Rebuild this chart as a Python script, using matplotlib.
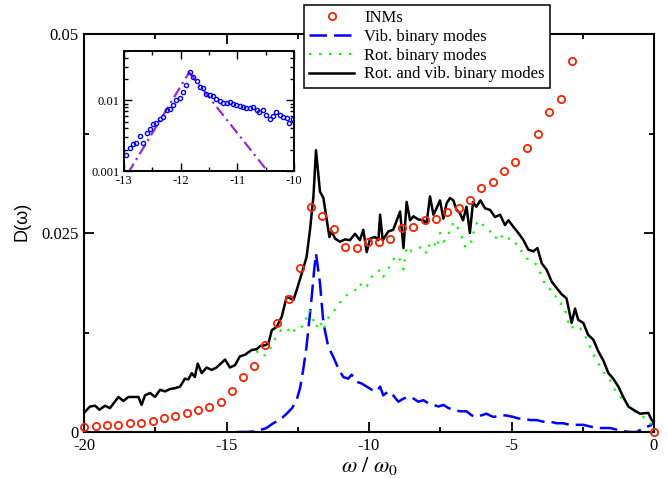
import matplotlib
matplotlib.use("Agg")
import matplotlib.pyplot as plt
from matplotlib.ticker import FixedLocator, NullFormatter, LogLocator

plt.rcParams['axes.unicode_minus'] = False
plt.rcParams['mathtext.fontset'] = 'stix'
SERIF = ['Liberation Serif', 'DejaVu Serif']

# ---------------- data ----------------
# INMs (red open circles)
inm_x = [-20.0, -19.58, -19.18, -18.8, -18.39, -18.0, -17.59, -17.19, -16.8, -16.4,
         -16.01, -15.61, -15.21, -14.82, -14.43, -14.04, -13.64, -13.23, -12.82, -12.42,
         -12.02, -11.65, -11.24, -10.83, -10.43, -10.04, -9.65, -9.26, -8.85, -8.44,
         -8.05, -7.66, -7.26, -6.85, -6.46, -6.06, -5.66, -5.26, -4.87, -4.47,
         -4.07, -3.67, -3.28, -2.89, 0.0]
inm_y = [0.00067, 0.00075, 0.00084, 0.00092, 0.0011, 0.00117, 0.00134, 0.0017, 0.002, 0.0024,
         0.0028, 0.0032, 0.0038, 0.0051, 0.0069, 0.0083, 0.0109, 0.0137, 0.0167, 0.0206,
         0.0283, 0.0271, 0.0255, 0.0232, 0.0231, 0.0239, 0.0239, 0.0242, 0.0256, 0.0257,
         0.0266, 0.0267, 0.0277, 0.0281, 0.0292, 0.0307, 0.0314, 0.0328, 0.0339, 0.0357,
         0.0375, 0.0402, 0.0418, 0.0466, 0.0]

# Vib. binary modes (blue dashed)
vib_x = [-14.64, -14.3, -13.94, -13.6, -13.36, -13.1, -12.89, -12.7, -12.54, -12.42,
         -12.31, -12.2, -12.13, -12.01, -11.92, -11.86, -11.72, -11.6, -11.43, -11.26,
         -11.08, -10.9, -10.73, -10.61, -10.43, -10.26, -10.08, -9.9, -9.73, -9.61,
         -9.5, -9.32, -9.15, -8.97, -8.79, -8.62, -8.44, -8.27, -8.09, -7.92,
         -7.74, -7.56, -7.39, -7.21, -7.04, -6.81, -6.58, -6.4, -6.23, -6.05,
         -5.88, -5.65, -5.4, -5.23, -4.94, -4.76, -4.58, -4.35, -4.12, -3.89,
         -3.65, -3.42, -3.19, -2.95, -2.71, -2.48, -2.25, -2.01, -1.78, -1.54,
         -1.31, -1.08, -0.84, -0.61, -0.37, -0.14, 0.0]
vib_y = [0.0, 0.0, 0.0001, 0.0005, 0.0011, 0.0016, 0.0023, 0.003, 0.004, 0.0055,
         0.0078, 0.0105, 0.0128, 0.017, 0.0205, 0.0224, 0.0187, 0.0137, 0.0107, 0.0095,
         0.008, 0.0069, 0.0067, 0.0072, 0.0063, 0.0061, 0.0057, 0.0053, 0.0051, 0.0057,
         0.0046, 0.0051, 0.0046, 0.0038, 0.0042, 0.0044, 0.0042, 0.0038, 0.004, 0.0036,
         0.0034, 0.0032, 0.0034, 0.003, 0.0028, 0.0026, 0.0026, 0.0021, 0.0019, 0.0021,
         0.0023, 0.0019, 0.002, 0.0021, 0.0019, 0.0017, 0.0017, 0.0015, 0.0015, 0.0013,
         0.0013, 0.0011, 0.0011, 0.0009, 0.0009, 0.0009, 0.0007, 0.0005, 0.0005, 0.0005,
         0.0003, 0.0001, 0.0, 0.0, 0.0005, 0.0008, 0.0012]

# Rot. binary modes (green dotted)
rot_x = [-13.94, -13.82, -13.59, -13.44, -13.22, -13.09, -12.89, -12.74, -12.6, -12.42,
         -12.25, -12.13, -12.03, -11.95, -11.86, -11.72, -11.6, -11.48, -11.31, -11.07,
         -10.9, -10.78, -10.6, -10.49, -10.32, -10.2, -10.08, -9.85, -9.73, -9.61,
         -9.5, -9.32, -9.2, -9.03, -8.91, -8.79, -8.68, -8.5, -8.27, -8.1,
         -7.98, -7.86, -7.74, -7.63, -7.51, -7.39, -7.21, -7.16, -6.98, -6.86,
         -6.75, -6.63, -6.51, -6.4, -6.28, -6.11, -5.93, -5.75, -5.58, -5.4,
         -5.29, -5.11, -4.87, -4.82, -4.64, -4.47, -4.3, -4.12, -3.89, -3.77,
         -3.54, -3.36, -3.19, -3.07, -2.95, -2.71, -2.48, -2.25, -2.07, -1.89,
         -1.72, -1.54, -1.37, -1.13, -0.96, -0.78, -0.6, -0.37, -0.14, -0.02]
rot_y = [0.0102, 0.0095, 0.0097, 0.0108, 0.0122, 0.0128, 0.0125, 0.0133, 0.0126, 0.0131,
         0.0135, 0.0153, 0.0150, 0.0140, 0.0131, 0.0140, 0.0128, 0.0142, 0.0147, 0.0162,
         0.0165, 0.0172, 0.0175, 0.0178, 0.0187, 0.0180, 0.0183, 0.0199, 0.0200, 0.0204,
         0.0195, 0.0205, 0.0214, 0.0222, 0.0216, 0.0204, 0.0233, 0.0227, 0.0231, 0.0233,
         0.0224, 0.0237, 0.0240, 0.0231, 0.0250, 0.0239, 0.0247, 0.0258, 0.0264, 0.0254,
         0.0245, 0.0233, 0.0241, 0.0239, 0.0260, 0.0266, 0.0256, 0.0252, 0.0243, 0.0250,
         0.0241, 0.0243, 0.0241, 0.0231, 0.0227, 0.0218, 0.0216, 0.0210, 0.0191, 0.0181,
         0.0178, 0.0162, 0.0160, 0.0147, 0.0130, 0.0134, 0.0126, 0.0107, 0.0093, 0.0082,
         0.0072, 0.0065, 0.0053, 0.0042, 0.0036, 0.0030, 0.0023, 0.0019, 0.0011, 0.0008]

# Rot. and vib. binary modes (black solid)
tot_x = [-19.96, -19.79, -19.61, -19.46, -19.26, -19.09, -18.79, -18.62, -18.44, -18.09,
         -17.98, -17.86, -17.68, -17.51, -17.33, -17.16, -16.98, -16.81, -16.63, -16.46,
         -16.34, -16.22, -16.11, -16.01, -15.87, -15.7, -15.52, -15.35, -15.05, -14.88,
         -14.7, -14.53, -14.35, -14.12, -13.94, -13.82, -13.65, -13.53, -13.41, -13.24,
         -13.06, -12.89, -12.65, -12.54, -12.36, -12.19, -12.07, -11.95, -11.86,
         -11.72, -11.6, -11.48, -11.39, -11.31, -11.19, -11.02, -10.84, -10.67, -10.49,
         -10.32, -10.2, -10.08, -9.96, -9.79, -9.67, -9.61, -9.52, -9.32, -9.15,
         -8.91, -8.79, -8.68, -8.56, -8.44, -8.27, -8.09, -7.98, -7.86, -7.74,
         -7.63, -7.51, -7.39, -7.28, -7.16, -7.04, -6.93, -6.81, -6.7, -6.58,
         -6.46, -6.35, -6.23, -6.09, -5.93, -5.75, -5.58, -5.4, -5.23, -5.11,
         -4.94, -4.76, -4.58, -4.41, -4.23, -4.09, -3.94, -3.77, -3.59, -3.42,
         -3.24, -3.07, -2.89, -2.77, -2.66, -2.48, -2.31, -2.13, -1.95, -1.78,
         -1.6, -1.43, -1.25, -1.08, -0.9, -0.73, -0.49, -0.2, -0.08, -0.01]
tot_y = [0.00255, 0.0032, 0.0033, 0.0028, 0.0033, 0.003, 0.0044, 0.0039, 0.0044, 0.0044,
         0.0034, 0.0046, 0.0049, 0.0044, 0.0053, 0.0051, 0.0054, 0.0055, 0.0057, 0.0067,
         0.0066, 0.0074, 0.0069, 0.0086, 0.0074, 0.0081, 0.0078, 0.0081, 0.0091, 0.0081,
         0.0084, 0.0095, 0.0097, 0.0103, 0.0104, 0.0108, 0.0109, 0.0111, 0.0128, 0.0132,
         0.0145, 0.017, 0.0166, 0.0178, 0.0199, 0.022, 0.0254, 0.0296, 0.0354,
         0.0302, 0.0294, 0.0266, 0.0245, 0.0252, 0.0243, 0.0239, 0.0242, 0.0241, 0.0249,
         0.0241, 0.0254, 0.0226, 0.0243, 0.0245, 0.0241, 0.0273, 0.0241, 0.0252, 0.0254,
         0.0277, 0.0231, 0.0289, 0.0266, 0.0271, 0.0267, 0.0266, 0.0262, 0.0296, 0.0273,
         0.0281, 0.0291, 0.0268, 0.0287, 0.0294, 0.0291, 0.0279, 0.0275, 0.0266, 0.0283,
         0.025, 0.0289, 0.0283, 0.0291, 0.0281, 0.0279, 0.027, 0.0273, 0.026, 0.0266,
         0.0258, 0.025, 0.0241, 0.0229, 0.0227, 0.0231, 0.0212, 0.0204, 0.0189, 0.0181,
         0.0173, 0.0168, 0.0137, 0.0155, 0.0141, 0.0137, 0.0122, 0.0116, 0.0101, 0.009,
         0.0074, 0.0067, 0.0057, 0.0044, 0.0032, 0.0028, 0.0023, 0.0024, 0.0015, 0.0013]

# Inset: vib. binary modes on log scale + exponential guides
ins_x = [-12.96, -12.9, -12.84, -12.78, -12.72, -12.66, -12.6, -12.55, -12.49, -12.43,
         -12.37, -12.31, -12.25, -12.19, -12.14, -12.08, -12.02, -11.96, -11.9, -11.84,
         -11.78, -11.72, -11.66, -11.6, -11.55, -11.49, -11.43, -11.37, -11.31, -11.25,
         -11.19, -11.13, -11.08, -11.02, -10.96, -10.9, -10.84, -10.78, -10.72, -10.66,
         -10.61, -10.55, -10.49, -10.43, -10.37, -10.31, -10.25, -10.19, -10.13, -10.08,
         -10.02]
ins_y = [0.00166, 0.00215, 0.0024, 0.00249, 0.0031, 0.0025, 0.0035, 0.0039, 0.0046, 0.0048,
         0.0055, 0.0058, 0.0073, 0.0076, 0.0085, 0.01, 0.0109, 0.0131, 0.0165, 0.0249,
         0.0211, 0.0185, 0.0155, 0.0148, 0.0122, 0.0118, 0.0115, 0.0103, 0.0098, 0.0093,
         0.0091, 0.0096, 0.009, 0.0085, 0.0083, 0.0081, 0.0077, 0.0079, 0.008, 0.0074,
         0.0068, 0.0072, 0.0063, 0.0055, 0.006, 0.0068, 0.0063, 0.0058, 0.0057, 0.0048,
         0.0055]
fit_left_x = [-12.93, -11.85]
fit_left_y = [0.00093, 0.025]
fit_right_x = [-11.85, -10.47]
fit_right_y = [0.025, 0.001]

main_xticks = [-20, -15, -10, -5, 0]
main_xlabels = ['-20', '-15', '-10', '-5', '0']
main_yticks = [0, 0.025, 0.05]
main_ylabels = ['0', '0.025', '0.05']
ins_xticks = [-13, -12, -11, -10]
ins_xlabels = ['-13', '-12', '-11', '-10']
ins_yticks = [0.001, 0.01]
ins_ylabels = ['0.001', '0.01']

labels = ['INMs', 'Vib. binary modes', 'Rot. binary modes', 'Rot. and vib. binary modes']

# ---------------- figure ----------------
W, H = 668, 478
fig = plt.figure(figsize=(W / 100, H / 100), dpi=100)
ax = fig.add_axes([84 / W, 1 - 432 / H, 570 / W, 398 / H])

h_inm, = ax.plot(inm_x, inm_y, linestyle='none', marker='o', markersize=5.2,
                 markerfacecolor='none', markeredgecolor='#ff2000', markeredgewidth=1.3,
                 zorder=4, clip_on=False)
h_vib, = ax.plot(vib_x, vib_y, color='#0000ff', linewidth=1.8,
                 linestyle=(0, (7, 2.8)), zorder=2)
h_rot, = ax.plot(rot_x, rot_y, color='#00ff00', linewidth=1.6,
                 linestyle=(0, (1, 3.5)), dash_capstyle='butt', zorder=2)
h_tot, = ax.plot(tot_x, tot_y, color='black', linewidth=1.8, zorder=3)

ax.set_xlim(-20, 0)
ax.set_ylim(0, 0.05)
ax.set_xticks(main_xticks)
ax.set_xticklabels(main_xlabels)
ax.set_yticks(main_yticks)
ax.set_yticklabels(main_ylabels)
ax.xaxis.set_minor_locator(FixedLocator([-17.5, -12.5, -7.5, -2.5]))
ax.yaxis.set_minor_locator(FixedLocator([0.0125, 0.0375]))
ax.tick_params(which='both', direction='in', top=True, right=True, width=1.3)
ax.tick_params(which='major', length=7.5, pad=4, labelsize=12)
ax.tick_params(which='minor', length=3.8)
for lab in ax.get_xticklabels() + ax.get_yticklabels():
    lab.set_fontfamily(SERIF)
for s in ax.spines.values():
    s.set_linewidth(1.5)

ax.set_xlabel(r'$\omega\ /\ \omega_0$', fontsize=16)
ax.xaxis.set_label_coords(0.5, -0.058)
ax.set_ylabel('D(ω)', fontsize=13, fontfamily='Liberation Sans')
ax.yaxis.set_label_coords(-0.093, 0.53)

# legend
leg = fig.legend([h_inm, h_vib, h_rot, h_tot], labels, loc='upper left',
                 bbox_to_anchor=(304 / W, 1 - 5 / H), bbox_transform=fig.transFigure,
                 borderaxespad=0, prop={'family': SERIF, 'size': 12},
                 handlelength=2.7, handletextpad=0.6, borderpad=0.3,
                 labelspacing=0.17, numpoints=1, fancybox=False, framealpha=1)
leg.get_frame().set_edgecolor('black')
leg.get_frame().set_linewidth(1.1)

# inset
axi = fig.add_axes([124 / W, 1 - 171 / H, 170 / W, 120 / H])
axi.set_yscale('log')
axi.plot(fit_left_x, fit_left_y, color='#9a2bd6', linewidth=1.6,
         linestyle=(0, (5, 2, 1, 2)))
axi.plot(fit_right_x, fit_right_y, color='#9a2bd6', linewidth=1.6,
         linestyle=(0, (5, 2, 1, 2)))
axi.plot(ins_x, ins_y, linestyle='none', marker='o', markersize=3.0,
         markerfacecolor='none', markeredgecolor='#0000ff', markeredgewidth=1.0)
axi.set_xlim(-13, -10)
axi.set_ylim(0.001, 0.05)
axi.set_xticks(ins_xticks)
axi.set_xticklabels(ins_xlabels)
axi.xaxis.set_minor_locator(FixedLocator([-12.5, -11.5, -10.5]))
axi.yaxis.set_major_locator(FixedLocator(ins_yticks))
axi.set_yticklabels(ins_ylabels)
axi.yaxis.set_minor_locator(LogLocator(base=10, subs=range(2, 10)))
axi.yaxis.set_minor_formatter(NullFormatter())
axi.tick_params(which='both', direction='in', top=True, right=True, width=1.0)
axi.tick_params(which='major', length=5.5, pad=3, labelsize=9)
axi.tick_params(which='minor', length=3)
for lab in axi.get_xticklabels() + axi.get_yticklabels():
    lab.set_fontfamily(SERIF)
for s in axi.spines.values():
    s.set_linewidth(1.4)

fig.savefig('out.png', dpi=100)
